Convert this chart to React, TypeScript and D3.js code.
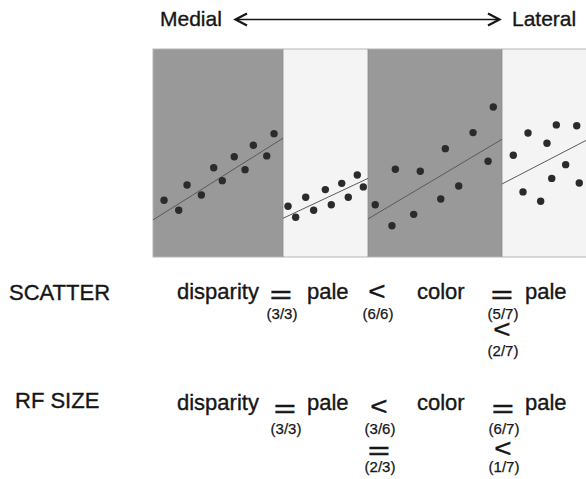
import React from "react";
import * as d3 from "d3";

// Stripe compartments, in medial-to-lateral order
const stripeNames = ["disparity", "pale", "color", "pale"];
const stripeDark = [true, false, true, false];

// Scatter of receptive-field positions within each compartment (x: position along stripe, y: response)
const disparityPoints: [number, number][] = [
  [0.85, 2.73], [1.98, 2.25], [2.62, 3.46], [3.72, 2.98], [4.67, 4.29], [5.33, 3.67],
  [6.25, 4.82], [7.08, 4.2], [7.72, 5.37], [8.75, 4.86], [9.31, 5.93],
];
const pale1Points: [number, number][] = [
  [0.59, 2.44], [1.49, 1.91], [2.67, 2.87], [3.61, 2.25], [4.98, 3.24],
  [5.68, 2.51], [6.91, 3.54], [7.68, 2.87], [8.74, 3.94], [9.45, 3.37],
];
const colorPoints: [number, number][] = [
  [0.54, 2.51], [1.79, 1.5], [2.04, 4.22], [3.41, 2.05], [3.9, 4.12], [5.43, 2.79],
  [5.77, 5.21], [6.77, 3.41], [7.84, 5.98], [8.96, 4.6], [9.35, 7.21],
];
const pale2Points: [number, number][] = [
  [1.33, 4.89], [2.47, 3.13], [3.06, 5.96], [4.55, 2.68], [5.29, 5.47],
  [5.85, 3.78], [6.39, 6.35], [7.49, 4.44], [8.79, 6.31], [9.09, 3.56],
];
const stripePoints = [disparityPoints, pale1Points, colorPoints, pale2Points];

// Fitted line per compartment: value at x = 0 and x = 10
const fitLines: [number, number][] = [
  [1.78, 5.71], [1.86, 3.78], [1.83, 5.66], [3.51, 5.63],
];

// Comparison rows beneath the scatter
const rowNames = ["SCATTER", "RF SIZE"];
const scatterRelations: [string, string][][] = [
  [["=", "(3/3)"]],
  [["<", "(6/6)"]],
  [["=", "(5/7)"], ["<", "(2/7)"]],
];
const rfSizeRelations: [string, string][][] = [
  [["=", "(3/3)"]],
  [["<", "(3/6)"], ["=", "(2/3)"]],
  [["=", "(6/7)"], ["<", "(1/7)"]],
];
const rowRelations = [scatterRelations, rfSizeRelations];

// ---- layout ----
const W = 586;
const H = 479;
const stripeEdges = [153, 283, 368, 502, 587];
const plotTop = 49;
const plotBottom = 257;
const FONT = "'Liberation Sans', Arial, Helvetica, sans-serif";
const INK = "#161616";

const wordX = [177, 307, 417, 525];
const rowLayout = [
  { nameX: 9, nameY: 300, base: 299, relX: [281, 377, 502], sym: [293.5, 331], frac: [318.5, 355.5] },
  { nameX: 15, nameY: 408, base: 410, relX: [285, 379, 503], sym: [408, 450], frac: [433.5, 471.5] },
];

const yScale = d3.scaleLinear().domain([0, 10]).range([plotBottom, plotTop]);

function RelSymbol({ s, cx, cy }: { s: string; cx: number; cy: number }) {
  const fs = 22;
  const isEq = s === "=";
  const sx = isEq ? 1.7 : 1.35;
  const sy = isEq ? 1.2 : 1.15;
  const dy = isEq ? 0 : -2;
  return (
    <text
      transform={`translate(${cx},${cy + dy}) scale(${sx},${sy})`}
      y={fs * 0.35}
      textAnchor="middle"
      fontFamily={FONT}
      fontSize={fs}
      fill={INK}
      stroke={INK}
      strokeWidth={isEq ? 0.5 : 0.35}
    >
      {s}
    </text>
  );
}

export default function App() {
  const xScales = stripeNames.map((_, i) =>
    d3.scaleLinear().domain([0, 10]).range([stripeEdges[i], stripeEdges[i + 1]])
  );
  const line = d3.line<[number, number]>();
  const wordStyle = { fontFamily: FONT, fontSize: 22, fill: INK, stroke: INK, strokeWidth: 0.35 };

  return (
    <svg
      width={W}
      height={H}
      viewBox={`0 0 ${W} ${H}`}
      style={{ position: "absolute", left: 0, top: 0, background: "#fff" }}
    >
      {/* Medial - Lateral axis */}
      <text x={160} y={26} {...wordStyle} fontSize={21}>Medial</text>
      <text x={512} y={26} {...wordStyle} fontSize={21}>Lateral</text>
      <line x1={236} x2={498} y1={19.5} y2={19.5} stroke={INK} strokeWidth={1.6} />
      <polyline points="247,13.5 235.5,19.5 247,25.5" fill="none" stroke={INK} strokeWidth={2.2} strokeLinejoin="miter" />
      <polyline points="488,13.5 499.5,19.5 488,25.5" fill="none" stroke={INK} strokeWidth={2.2} strokeLinejoin="miter" />

      {/* stripes */}
      {stripeNames.map((name, i) => (
        <rect
          key={`s${i}`}
          x={stripeEdges[i]}
          y={plotTop}
          width={stripeEdges[i + 1] - stripeEdges[i]}
          height={plotBottom - plotTop}
          fill={stripeDark[i] ? "#999999" : "#f4f4f4"}
        />
      ))}
      <rect x={stripeEdges[0]} y={plotTop} width={stripeEdges[4] - stripeEdges[0]} height={plotBottom - plotTop}
        fill="none" stroke="#b5b5b5" strokeWidth={1} />
      {stripeEdges.slice(1, 4).map((e, i) => (
        <line key={`b${i}`} x1={e} x2={e} y1={plotTop} y2={plotBottom} stroke="#8a8a8a" strokeWidth={0.8} />
      ))}

      {/* fitted lines */}
      {fitLines.map(([a, b], i) => (
        <path
          key={`l${i}`}
          d={line([
            [xScales[i](0), yScale(a)],
            [xScales[i](10), yScale(b)],
          ]) ?? ""}
          stroke="#5a5a5a"
          strokeWidth={1}
          fill="none"
        />
      ))}

      {/* points */}
      {stripePoints.map((pts, i) =>
        pts.map(([x, y], j) => (
          <circle key={`p${i}-${j}`} cx={xScales[i](x)} cy={yScale(y)} r={3.7} fill="#2b2b2b" />
        ))
      )}

      {/* comparison rows */}
      {rowNames.map((rn, r) => {
        const L = rowLayout[r];
        return (
          <g key={`row${r}`}>
            <text x={L.nameX} y={L.nameY} {...wordStyle}>{rn}</text>
            {stripeNames.map((w, k) => (
              <text key={`w${k}`} x={wordX[k]} y={L.base} {...wordStyle}>{w}</text>
            ))}
            {rowRelations[r].map((col, c) =>
              col.map(([s, f], lvl) => (
                <g key={`rel${c}-${lvl}`}>
                  <RelSymbol s={s} cx={L.relX[c]} cy={L.sym[lvl]} />
                  <text x={L.relX[c] + 1} y={L.frac[lvl]} textAnchor="middle" fontFamily={FONT}
                    fontSize={15} fill={INK} stroke={INK} strokeWidth={0.25}>{f}</text>
                </g>
              ))
            )}
          </g>
        );
      })}
    </svg>
  );
}
